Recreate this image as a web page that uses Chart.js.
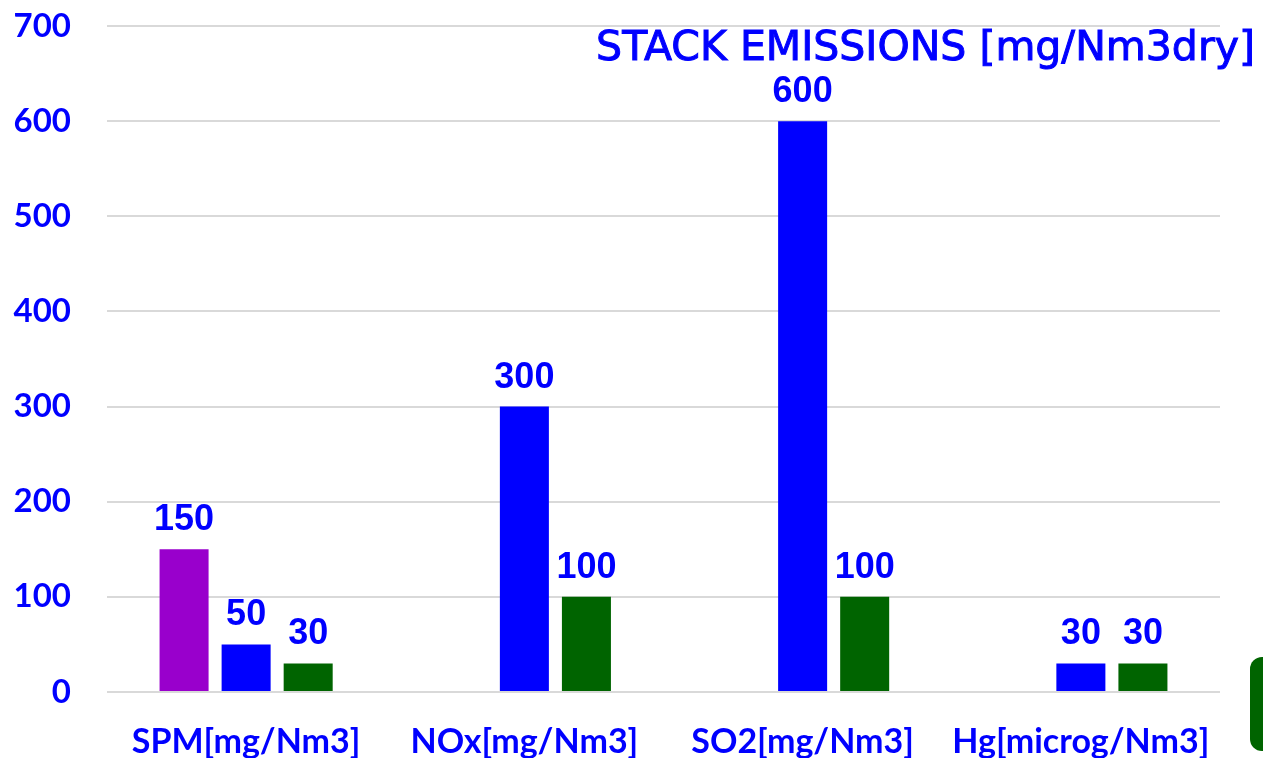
<!DOCTYPE html>
<html>
<head>
<meta charset="utf-8">
<script src="https://cdn.jsdelivr.net/npm/chart.js@4/dist/chart.umd.min.js"></script>
<style>
  html, body { margin: 0; padding: 0; background: #ffffff; }
  #wrap { width: 1263px; height: 758px; position: relative; }
</style>
</head>
<body>
<div id="wrap"><canvas id="c"></canvas></div>
<script>
// Pollutant categories and the three emission series
const categories = ['SPM[mg/Nm3]', 'NOx[mg/Nm3]', 'SO2[mg/Nm3]', 'Hg[microg/Nm3]'];
const purpleValues = [150, null, null, null];
const blueValues = [50, 300, 600, 30];
const greenValues = [30, 100, 100, 30];
const yTicks = [0, 100, 200, 300, 400, 500, 600, 700];
const chartTitle = 'STACK EMISSIONS [mg/Nm3dry]';

const BLUE = '#0000FF';
const PURPLE = '#9900CC';
const GREEN = '#006400';

// Value labels above each bar
const valueLabels = {
  id: 'valueLabels',
  afterDatasetsDraw(chart) {
    const ctx = chart.ctx;
    ctx.save();
    ctx.font = 'bold 36px "Liberation Sans", Arial, sans-serif';
    ctx.fillStyle = BLUE;
    ctx.textAlign = 'center';
    ctx.textBaseline = 'alphabetic';
    chart.data.datasets.forEach((ds, i) => {
      const meta = chart.getDatasetMeta(i);
      meta.data.forEach((bar, j) => {
        const v = ds.data[j];
        if (v === null || v === undefined) return;
        ctx.fillText(String(v), bar.x, bar.y - 19);
      });
    });
    ctx.restore();
  }
};

// Heading in the upper right plus the green tab at the lower right edge
const decorations = {
  id: 'decorations',
  afterDraw(chart) {
    const ctx = chart.ctx;
    ctx.save();
    ctx.font = '41px "DejaVu Sans", sans-serif';
    ctx.fillStyle = BLUE;
    ctx.strokeStyle = BLUE;
    ctx.lineWidth = 1;
    ctx.textAlign = 'right';
    ctx.textBaseline = 'alphabetic';
    ctx.fillText(chartTitle, 1255, 60);
    ctx.strokeText(chartTitle, 1255, 60);

    ctx.fillStyle = GREEN;
    ctx.beginPath();
    ctx.roundRect(1250, 657, 40, 94, 12);
    ctx.fill();
    ctx.restore();
  }
};

new Chart(document.getElementById('c'), {
  type: 'bar',
  data: {
    labels: categories,
    datasets: [
      { data: purpleValues, backgroundColor: PURPLE },
      { data: blueValues, backgroundColor: BLUE },
      { data: greenValues, backgroundColor: GREEN }
    ]
  },
  options: {
    responsive: true,
    maintainAspectRatio: false,
    animation: false,
    layout: { padding: { top: 0, right: 43, bottom: 0, left: 0 } },
    datasets: { bar: { categoryPercentage: 0.669, barPercentage: 0.79 } },
    plugins: {
      legend: { display: false },
      tooltip: { enabled: false },
      title: { display: false }
    },
    scales: {
      x: {
        grid: { display: false },
        border: { display: false },
        ticks: {
          color: BLUE,
          font: { family: 'Lato, "Open Sans", sans-serif', weight: 'bold', size: 34 },
          padding: 22,
          maxRotation: 0,
          autoSkip: false
        },
        afterFit(s) { s.height = 66; }
      },
      y: {
        min: 0,
        max: 700,
        afterBuildTicks(s) { s.ticks = yTicks.map(v => ({ value: v })); },
        grid: { color: '#d9d9d9', lineWidth: 2, drawTicks: false },
        border: { display: false },
        ticks: {
          color: BLUE,
          font: { family: 'Lato, "Open Sans", sans-serif', weight: 'bold', size: 33 },
          padding: 36
        },
        afterFit(s) {
          s.width = 107;
          s.paddingTop = 26;
          s.paddingBottom = 0;
        }
      }
    }
  },
  plugins: [valueLabels, decorations]
});
</script>
</body>
</html>
